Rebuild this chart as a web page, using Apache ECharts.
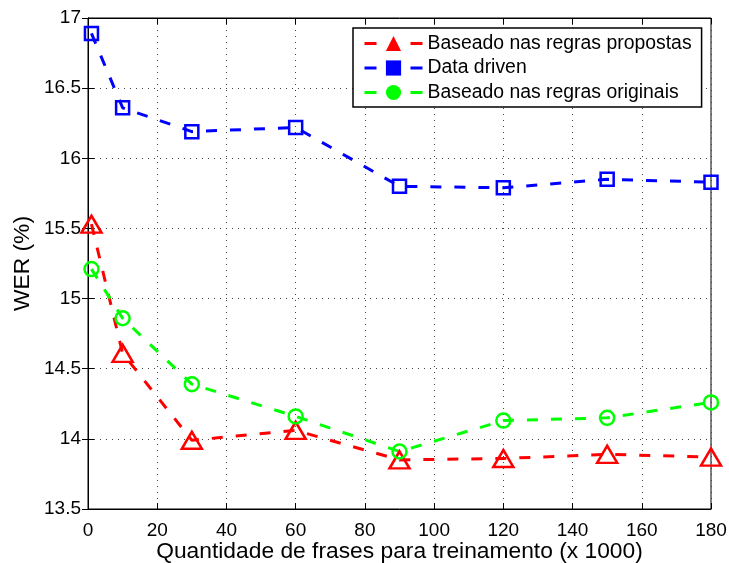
<!DOCTYPE html>
<html>
<head>
<meta charset="utf-8">
<script src="https://cdn.jsdelivr.net/npm/echarts@6/dist/echarts.min.js"></script>
<style>
  html, body { margin: 0; padding: 0; background: #fff; }
  #chart { width: 729px; height: 563px; }
</style>
</head>
<body>
<div id="chart"></div>
<script>
// Training set size (thousands of sentences)
const sizes = [1, 10, 30, 60, 90, 120, 150, 180];

// WER (%) per approach
const werProposed = [15.53, 14.61, 13.99, 14.06, 13.85, 13.86, 13.89, 13.87];
const werDataDriven = [16.89, 16.36, 16.19, 16.22, 15.80, 15.79, 15.85, 15.83];
const werOriginal = [15.21, 14.86, 14.39, 14.16, 13.91, 14.13, 14.15, 14.26];

const seriesNames = [
  'Baseado nas regras propostas',
  'Data driven',
  'Baseado nas regras originais'
];

const FONT = 'Liberation Sans, Arial, Helvetica, sans-serif';

const chart = echarts.init(document.getElementById('chart'));

function pairs(values) {
  return sizes.map((x, i) => [x, values[i]]);
}

function makeSeries(name, values, color, symbol, size) {
  return {
    name: name,
    type: 'line',
    data: pairs(values),
    symbol: symbol,
    symbolSize: size,
    showAllSymbol: true,
    lineStyle: { color: color, width: 3, type: [11, 13] },
    itemStyle: { color: 'rgba(255,255,255,0)', borderColor: color, borderWidth: 2.5 },
    emphasis: { disabled: true },
    animation: false,
    z: 3
  };
}

function legendItem(name, color, symbolSize) {
  return {
    name: name,
    itemStyle: { color: color, borderColor: color, borderWidth: 0 },
    lineStyle: { color: color, width: 3, type: [12, 34] },
    symbolSize: symbolSize
  };
}

const gridAxisLine = { show: true, lineStyle: { color: '#000', width: 1 } };
const dotted = { show: true, lineStyle: { color: '#444', width: 1, type: [1, 5] } };
const innerTicks = { show: true, inside: true, length: 6, lineStyle: { color: '#000' } };

chart.setOption({
  backgroundColor: '#fff',
  animation: false,
  grid: {
    left: 88, top: 18, right: 18, bottom: 54,
    outerBoundsMode: 'none', containLabel: false,
    show: true, borderColor: '#000', borderWidth: 1
  },
  legend: {
    left: 353, top: 28,
    orient: 'vertical',
    backgroundColor: '#fff',
    borderColor: '#000', borderWidth: 1.5,
    padding: [6, 10, 5, 10],
    itemGap: 5.5,
    itemWidth: 58, itemHeight: 19,
    textStyle: { fontFamily: FONT, fontSize: 19.4, color: '#000' },
    data: [
      legendItem(seriesNames[0], '#ff0000', 15),
      legendItem(seriesNames[1], '#0000ff', 10),
      legendItem(seriesNames[2], '#00ff00', 12)
    ]
  },
  xAxis: [{
    type: 'value', min: 0, max: 180, interval: 20,
    name: 'Quantidade de frases para treinamento (x 1000)',
    nameLocation: 'middle', nameGap: 31, nameMoveOverlap: false,
    nameTextStyle: { fontFamily: FONT, fontSize: 22.8, color: '#000' },
    axisLine: gridAxisLine,
    axisTick: innerTicks,
    axisLabel: { fontFamily: FONT, fontSize: 19, color: '#000', margin: 12 },
    splitLine: dotted
  }, {
    type: 'value', min: 0, max: 180, interval: 20, position: 'top',
    axisLine: gridAxisLine,
    axisTick: innerTicks,
    axisLabel: { show: false }, splitLine: { show: false }
  }],
  yAxis: [{
    type: 'value', min: 13.5, max: 17, interval: 0.5,
    name: 'WER (%)',
    nameLocation: 'middle', nameGap: 54, nameMoveOverlap: false,
    nameTextStyle: { fontFamily: FONT, fontSize: 22.8, color: '#000' },
    axisLine: gridAxisLine,
    axisTick: innerTicks,
    axisLabel: { fontFamily: FONT, fontSize: 19, color: '#000', margin: 7 },
    splitLine: dotted
  }, {
    type: 'value', min: 13.5, max: 17, interval: 0.5, position: 'right',
    axisLine: gridAxisLine,
    axisTick: innerTicks,
    axisLabel: { show: false }, splitLine: { show: false }
  }],
  series: [
    makeSeries(seriesNames[0], werProposed, '#ff0000', 'triangle', [20, 17]),
    makeSeries(seriesNames[1], werDataDriven, '#0000ff', 'rect', 13),
    makeSeries(seriesNames[2], werOriginal, '#00ff00', 'circle', 14)
  ]
});
</script>
</body>
</html>
